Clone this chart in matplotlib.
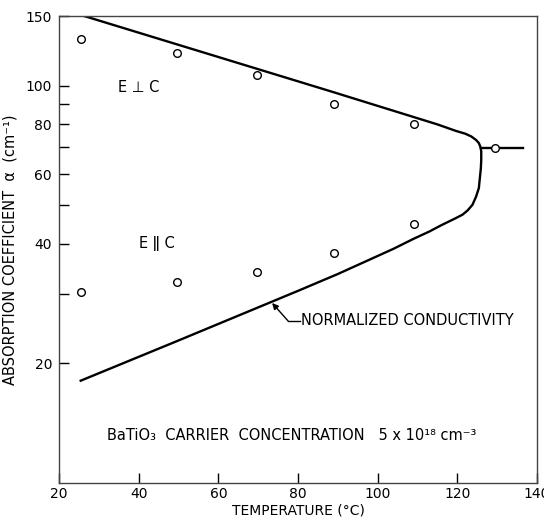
import matplotlib
matplotlib.use("Agg")
import matplotlib.pyplot as plt
from matplotlib.ticker import FixedLocator, NullFormatter, FixedFormatter

# Data
perp_T = [25.6, 49.7, 69.7, 89.1, 109.0, 129.5]
perp_alpha = [130.9, 120.7, 106.3, 90.0, 80.2, 69.8]

par_T = [25.6, 49.7, 69.7, 89.1, 109.0]
par_alpha = [30.3, 32.1, 33.9, 37.9, 44.9]

# normalized conductivity curve (upper branch -> nose -> lower branch)
curve_T = [26.3, 87.8, 115.0, 119.7, 122.0, 123.5, 124.7, 125.4, 125.8, 126.0,
           126.0, 125.9, 125.4, 124.7, 123.8, 122.6, 121.3, 119.7, 116.0, 113.0,
           109.0, 104.0, 98.7, 90.0, 80.1, 49.3, 25.45]
curve_alpha = [150.0, 97.2, 80.0, 77.0, 75.8, 74.6, 73.1, 71.8, 70.2, 68.4,
               65.0, 62.0, 55.3, 52.6, 50.2, 48.6, 47.4, 46.5, 44.6, 43.0,
               41.2, 38.9, 36.8, 33.6, 30.5, 22.7, 18.1]

tail_T = [125.9, 136.4]
tail_alpha = [69.8, 69.8]

x_ticks = [20, 40, 60, 80, 100, 120, 140]
x_labels = ["20", "40", "60", "80", "100", "120", "140"]
y_major = [20, 40, 60, 80, 100, 150]
y_major_labels = ["20", "40", "60", "80", "100", "150"]
y_minor = [30, 50, 70, 90]

plt.rcParams['font.family'] = ['DejaVu Sans']

fig = plt.figure(figsize=(5.44, 5.2), dpi=100)
ax = fig.add_axes([59/544, 1 - 483/520, (537 - 59)/544, (483 - 16)/520])

ax.set_yscale('log')
ax.set_xlim(20, 140)
ax.set_ylim(10, 150)

ax.plot(curve_T, curve_alpha, color='black', lw=1.7, solid_joinstyle='round')
ax.plot(tail_T, tail_alpha, color='black', lw=1.7)

ax.plot(perp_T, perp_alpha, 'o', ms=5.5, mfc='white', mec='black', mew=1.0, zorder=3)
ax.plot(par_T, par_alpha, 'o', ms=5.5, mfc='white', mec='black', mew=1.0, zorder=3)

ax.xaxis.set_major_locator(FixedLocator(x_ticks))
ax.xaxis.set_major_formatter(FixedFormatter(x_labels))
ax.xaxis.set_minor_locator(FixedLocator([]))
ax.yaxis.set_major_locator(FixedLocator(y_major))
ax.yaxis.set_major_formatter(FixedFormatter(y_major_labels))
ax.yaxis.set_minor_locator(FixedLocator(y_minor))
ax.yaxis.set_minor_formatter(NullFormatter())

ax.tick_params(which='both', direction='in', length=7, width=1.0,
               labelsize=10, top=False, right=False, color='black')
ax.tick_params(axis='x', pad=3)
ax.tick_params(axis='y', pad=5)

for s in ax.spines.values():
    s.set_linewidth(1.0)
    s.set_color('#444444')

ax.set_xlabel('TEMPERATURE (°C)', fontsize=10, labelpad=2)
ax.set_ylabel('ABSORPTION COEFFICIENT  α  (cm⁻¹)', fontsize=10.5, labelpad=6)

ax.text(40.0, 99, 'E ⊥ C', fontsize=10.5, ha='center', va='center')
ax.text(44.5, 40, 'E ǁ C', fontsize=10.5, ha='center', va='center')

ax.text(80.8, 25.6, 'NORMALIZED CONDUCTIVITY', fontsize=10.5, ha='left', va='center')
ax.plot([80.6, 77.5], [25.6, 25.6], color='black', lw=1.0)
ax.annotate('', xy=(73.5, 28.4), xytext=(77.5, 25.6),
            arrowprops=dict(arrowstyle='-|>', color='black', lw=1.0,
                            mutation_scale=9, shrinkA=0, shrinkB=0))

ax.text(32.1, 13.2, 'BaTiO₃  CARRIER  CONCENTRATION   5 x 10¹⁸ cm⁻³',
        fontsize=10.5, ha='left', va='center')

fig.savefig('out.png', dpi=100)
